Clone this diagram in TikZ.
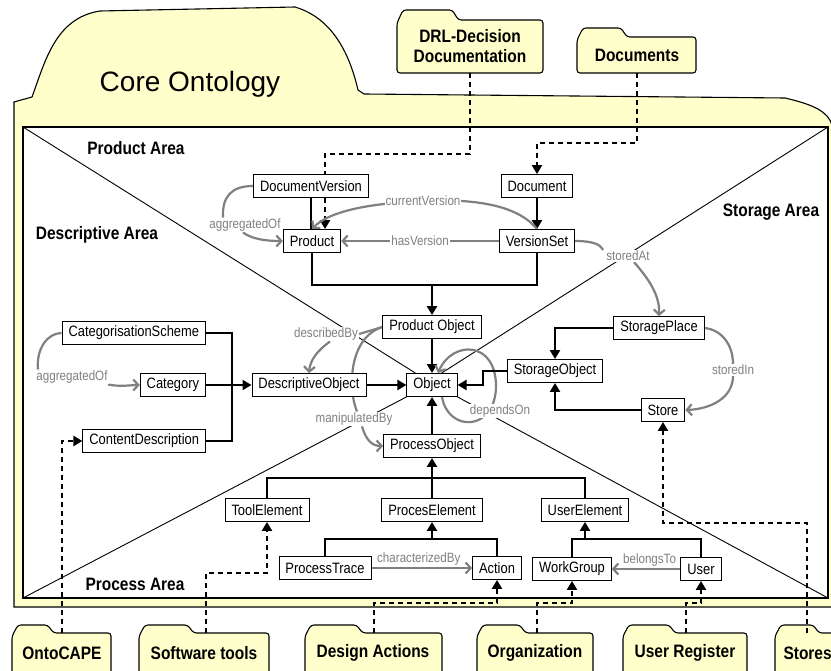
\documentclass[tikz,border=0pt]{standalone}
\usepackage{fontspec}
\setmainfont{Liberation Sans}
\newfontfamily\nf[FakeStretch=0.86]{Liberation Sans}
\usetikzlibrary{arrows.meta}
\definecolor{fyel}{RGB}{255,255,204}
\definecolor{relg}{RGB}{128,128,128}
\pgfdeclarelayer{bg}\pgfdeclarelayer{mid}\pgfsetlayers{bg,mid,main}
\tikzset{
  box/.style={draw, fill=white, line width=0.9pt, font=\nf\fontsize{15}{17}\selectfont, inner xsep=6.5pt, inner ysep=0pt, minimum height=23pt},
  ln/.style={line width=2.6pt},
  conn/.style={line width=2.6pt, -{Triangle[width=10pt,length=9pt]}},
  dsh/.style={line width=2.2pt, dash pattern=on 5pt off 4pt, -{Triangle[width=10pt,length=9pt]}},
  dshp/.style={line width=2.2pt, dash pattern=on 5pt off 4pt},
  rel/.style={draw=relg, line width=2.2pt},
  relarr/.style={rel, -{Straight Barb[length=5pt,width=11pt]}},
  lbl/.style={text=relg, fill=white, inner sep=1pt, font=\nf\fontsize{13.5}{15}\selectfont},
  lblp/.style={text=relg, inner sep=1pt, font=\nf\fontsize{13.5}{15}\selectfont},
  area/.style={font=\nf\bfseries\fontsize{18}{22}\selectfont, align=center},
  folder/.style={fill=fyel, draw, line width=1.1pt, rounded corners=3pt},
  diag/.style={line width=0.9pt}
}
\newcommand{\fdr}[5]{%
  \pgfmathsetmacro\tabr{#1+0.42*(#2-#1)}%
  \draw[folder] (#1,#4) -- (#1,#3+3) -- (#1+6,#5) -- (\tabr-6,#5) -- (\tabr,#3) -- (#2,#3) -- (#2,#4) -- cycle;}
\begin{document}
\begin{tikzpicture}[x=1pt,y=-1pt]
\useasboundingbox (0,0) rectangle (831,671);
\clip (0,0) rectangle (831,671);

% ---------- nodes ----------
\node[box] (dv) at (311,186) {DocumentVersion};
\node[box] (doc) at (537,186) {Document};
\node[box] (prod) at (312,241) {Product};
\node[box] (vs) at (537,241) {VersionSet};
\node[box] (po) at (432,327) {Product Object};
\node[box] (desc) at (309,385) {DescriptiveObject};
\node[box] (obj) at (432,385) {Object};
\node[box] (proc) at (432,446) {ProcessObject};
\node[box] (sp) at (659,328) {StoragePlace};
\node[box] (so) at (555,371) {StorageObject};
\node[box] (st) at (663,410) {Store};
\node[box, anchor=east] (cs) at (206,333) {CategorisationScheme};
\node[box, anchor=east] (cat) at (206,385) {Category};
\node[box, anchor=east] (cd) at (206,441) {ContentDescription};
\node[box] (te) at (267,510) {ToolElement};
\node[box] (pe) at (432,510) {ProcesElement};
\node[box] (ue) at (585,510) {UserElement};
\node[box] (pt) at (325,568) {ProcessTrace};
\node[box] (act) at (497,568) {Action};
\node[box] (wg) at (572,569) {WorkGroup};
\node[box] (usr) at (701,569) {User};

% grey relation labels
\node[lbl] (agg1) at (245,225) {aggregatedOf};
\node[lbl] (agg2) at (72,377) {aggregatedOf};
\node[lbl] (sa) at (628,256) {storedAt};
\node[lbl] (si) at (733,370) {storedIn};
\node[lbl] (db) at (326,334) {describedBy};
\node[lbl] (mb) at (354,419) {manipulatedBy};
\node[lbl] (dep) at (500,411) {dependsOn};

% area labels
\node[area] (pa) at (136,148) {Product Area};
\node[area] (da) at (97,235) {Descriptive Area};
\node[area] (sta) at (771,212) {Storage Area};
\node[area] (pra) at (135,584) {Process Area};

% ---------- background: frame, diagonals, folders ----------
\begin{pgfonlayer}{bg}
\draw[folder, rounded corners=0pt] (14,607) -- (14,102) -- (32,97)
  .. controls (45,62) and (55,18) .. (100,11) -- (295,7)
  .. controls (322,15) and (346,38) .. (358,90) -- (364,94) -- (785,98)
  .. controls (815,105) and (828,112) .. (832,125) -- (840,127) -- (840,607) -- cycle;
\node[font=\fontsize{28}{32}\selectfont, anchor=base] (core) at (190,92) {Core Ontology};
\draw[fill=white, line width=1.1pt] (23,127) rectangle (828,598);
\coordinate (c1) at (23,127);
\coordinate (c2) at (828,127);
\coordinate (c3) at (23,598);
\coordinate (c4) at (828,598);
\draw[diag] (c1) -- ([xshift=9pt]obj.north west);
\draw[diag] (c2) -- ([xshift=-16pt]obj.north east);
\draw[diag] (c3) -- (obj.south west);
\draw[diag] (c4) -- (obj.south east);

\fdr{397}{543}{20}{73}{10}
\fdr{577}{696}{37}{73}{28}
\fdr{12}{111}{633}{690}{625}
\fdr{139}{269}{633}{690}{625}
\fdr{305}{442}{633}{690}{625}
\fdr{477}{593}{633}{690}{625}
\fdr{623}{747}{633}{690}{625}
\fdr{775}{880}{633}{690}{625}
\end{pgfonlayer}

\node[area] (drl) at (470,46) {DRL-Decision\\[-2pt]Documentation};
\node[area] (docs) at (637,55) {Documents};
\node[area] (onto) at (62,653) {OntoCAPE};
\node[area] (sw) at (204,653) {Software tools};
\node[area] (des) at (373,653) {Design Actions};
\node[area] (org) at (535,653) {Organization};
\node[area] (ureg) at (685,653) {User Register};
\node[area, anchor=west] (stores) at (780,653) {Stores};

\coordinate (drlB) at (470,73);
\coordinate (drlK) at (325,154);
\coordinate (docB) at (637,73);
\coordinate (docK) at (537,143);
\coordinate (ocT) at (62,633);
\coordinate (swT) at (206,633);
\coordinate (swK) at (206,573);
\coordinate (daT) at (374,633);
\coordinate (daK) at (374,603);
\coordinate (orT) at (537,633);
\coordinate (orK) at (537,603);
\coordinate (urT) at (686,633);
\coordinate (urK) at (686,603);
\coordinate (stT) at (807,633);
\coordinate (stK) at (807,523);
\coordinate (jtop) at (432,285);
\coordinate (jl) at (232,385);
\coordinate (jp) at (432,478);
\coordinate (jpe) at (432,539);
\coordinate (jue) at (585,539);

% ---------- connectors ----------
\begin{pgfonlayer}{mid}
% dashed links from external folders
\draw[dsh] (drlB) |- (drlK) -- ([xshift=13pt]prod.north);
\draw[dsh] (docB) |- (docK) -- (doc.north);
\draw[dsh] (ocT) |- (cd.west);
\draw[dsh] (swT) -- (swK) -| (te.south);
\draw[dsh] (daT) -- (daK) -| (act.south);
\draw[dsh] (orT) -- (orK) -| (wg.south);
\draw[dsh] (urT) -- (urK) -| (usr.south);
\draw[dsh] (stT) -- (stK) -| (st.south);

% product area
\draw[ln] (dv.south) -- (dv.south |- prod.north);
\draw[conn] (doc) -- (vs);
\draw[ln] (prod.south) |- (jtop) -| (vs.south);
\draw[conn] (jtop) -- (po.north);
\draw[relarr] (vs.west) -- node[lbl] {hasVersion} (prod.east);
\draw[relarr] (vs.north) .. controls (515,202) and (465,199) .. (423,201)
  node[lbl] {currentVersion}
  .. controls (375,203) and (330,210) .. (prod.north);
\draw[rel] (dv.west) .. controls (232,186) and (222,196) .. ([xshift=-22pt]agg1.north);
\draw[relarr] ([xshift=-2pt]agg1.south) .. controls (252,239) and (265,241) .. (prod.west);

% centre
\draw[conn] (po) -- (obj);
\draw[conn] (proc) -- (obj);
\draw[conn] (desc) -- (obj);
\draw[conn] (cat) -- (desc);
\draw[ln] (cs.east) -| (jl) |- (cd.east);
\draw[rel] (cs.west) .. controls (48,333) and (36,348) .. ([xshift=-34pt]agg2.north);
\draw[relarr] ([xshift=36pt]agg2.south) .. controls (120,387) and (132,385) .. (cat.west);

\draw[rel] (po.west) -- (db.east);
\draw[relarr] ([xshift=4pt]db.south) .. controls (318,350) and (310,360) .. (desc.north);
\draw[rel] (po.west) .. controls (348,338) and (348,390) .. ([xshift=3pt]mb.north);
\draw[relarr] ([xshift=8pt]mb.south) .. controls (366,440) and (372,446) .. (proc.west);
\draw[relarr] ([xshift=10pt]obj.south) .. controls (448,432) and (494,432) .. (496,388)
  .. controls (497,340) and (452,340) .. ([xshift=6pt]obj.north);

% storage area
\draw[rel] (vs.east) .. controls (592,241) and (600,244) .. ([xshift=-2pt]sa.north west);
\draw[relarr] ([xshift=6pt]sa.south) .. controls (648,278) and (660,295) .. (sp.north);
\draw[conn] (sp.west) -| (so.north);
\draw[conn] (st.west) -| (so.south);
\draw[conn] (so.west) -- ++(-24,0) |- (obj.east);
\draw[rel] (sp.east) .. controls (722,330) and (733,345) .. (si.north);
\draw[relarr] (si.south) .. controls (733,397) and (712,409) .. (st.east);

% process area
\draw[ln] (te.north) |- (jp) -| (ue.north);
\draw[conn] (pe.north) -- (proc.south);
\draw[ln] (pt.north) |- (jpe) -| (act.north);
\draw[conn] (jpe) -- (pe.south);
\draw[ln] (wg.north) |- (jue) -| (usr.north);
\draw[conn] (jue) -- (ue.south);
\draw[relarr] (pt.east) -- node[lblp, pos=0.47, above=1pt] {characterizedBy} (act.west);
\draw[relarr] (usr.west) -- node[lblp, pos=0.45, above=1pt] {belongsTo} (wg.east);
\end{pgfonlayer}
\end{tikzpicture}
\end{document}
